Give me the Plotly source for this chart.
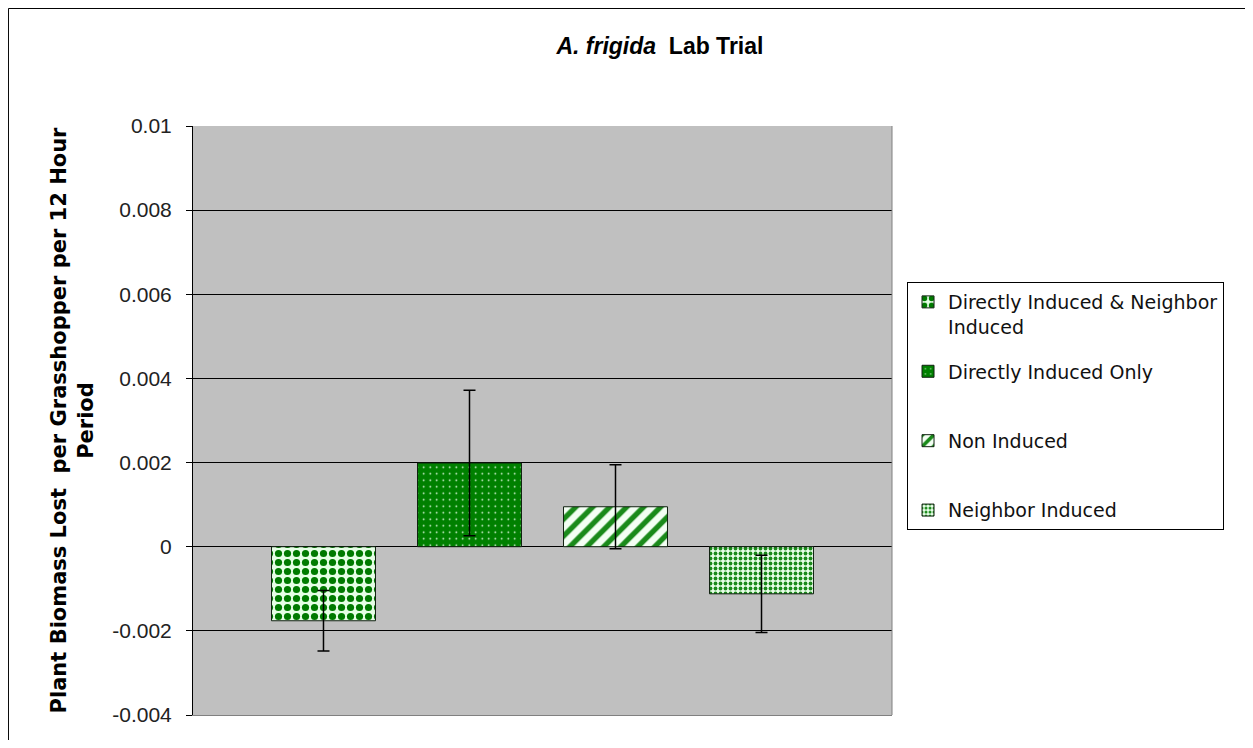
import plotly.graph_objects as go

# ---- data ----
series_names = ["Directly Induced & Neighbor<br>Induced", "Directly Induced Only<br> ",
                "Non Induced<br> ", "Neighbor Induced"]
values = [-0.00176, 0.00199, 0.00095, -0.00112]
errors = [0.00072, 0.00173, 0.00100, 0.00092]
tick_vals = [0.01, 0.008, 0.006, 0.004, 0.002, 0, -0.002, -0.004]
tick_text = ["0.01", "0.008", "0.006", "0.004", "0.002", "0", "-0.002", "-0.004"]
category = [""]

# ---- styles ----
patterns = [
    dict(shape=".", fgcolor="#007a00", size=9, solidity=0.5, fgopacity=1),
    dict(shape=".", fgcolor="#e8ffe8", size=6.5, solidity=0.05, fgopacity=1),
    dict(shape="/", fgcolor="#1a8a1a", size=12, solidity=0.45, fgopacity=1),
    dict(shape=".", fgcolor="#1a8a1a", size=5, solidity=0.45, fgopacity=1),
]
bar_colors = ["#e6ffe6", "#008000", "#f4fff4", "#e8ffe8"]

FONT = "Liberation Sans, Arial, sans-serif"

fig = go.Figure()
for i, name in enumerate(series_names):
    fig.add_trace(go.Bar(
        x=category, y=[values[i]], name=name,
        marker=dict(color=bar_colors[i], pattern=patterns[i],
                    line=dict(color="#102010", width=1)),
        error_y=dict(type="data", array=[errors[i]], visible=True,
                     color="#000000", thickness=1.5, width=6),
        legendgroup=str(i),
    ))

fig.update_layout(
    width=1237, height=732,
    margin=dict(l=185, r=353, t=118, b=25),
    paper_bgcolor="white", plot_bgcolor="#c0c0c0",
    barmode="group", bargap=0.1645, bargroupgap=0.288,
    font=dict(family=FONT, size=21, color="#111111"),
    title=dict(text="<b><i>A. frigida</i>  Lab Trial</b>", x=0.527, xanchor="center",
               y=1 - 38 / 732, yanchor="middle", font=dict(size=23, color="#000000")),
    showlegend=True,
    legend=dict(x=1.0215, y=0.7351, xanchor="left", yanchor="top",
                bgcolor="white", bordercolor="#000000", borderwidth=1,
                font=dict(family="DejaVu Sans, sans-serif", size=19, color="#111111"),
                traceorder="grouped", tracegroupgap=17, valign="top", itemwidth=30),
    xaxis=dict(showticklabels=False, showgrid=False, zeroline=False,
               showline=True, linecolor="#808080", linewidth=1, mirror=False,
               ticks=""),
    yaxis=dict(range=[-0.004, 0.01], tickvals=tick_vals, ticktext=tick_text,
               showgrid=True, gridcolor="#000000", gridwidth=1,
               zeroline=True, zerolinecolor="#000000", zerolinewidth=1,
               showline=True, linecolor="#000000", linewidth=1,
               ticks="outside", ticklen=6, tickcolor="#000000",
               ticklabelstandoff=10,
               tickfont=dict(size=21, color="#222222"),
               title=dict(text="<b>Plant Biomass Lost  per Grasshopper per 12 Hour<br>Period</b>",
                          font=dict(family="DejaVu Sans, sans-serif", size=21, color="#000000"),
                          standoff=12)),
)

# right border of plot area (grey)
fig.add_shape(type="line", xref="paper", yref="paper", x0=1, x1=1, y0=0, y1=1,
              line=dict(color="#808080", width=1))
# chart-area outer border
fig.add_shape(type="rect", xref="paper", yref="paper",
              x0=-0.2640, x1=1.6, y0=-0.1, y1=1.1995,
              line=dict(color="#000000", width=1), fillcolor="rgba(0,0,0,0)", layer="below")

fig.write_html("out.html")
